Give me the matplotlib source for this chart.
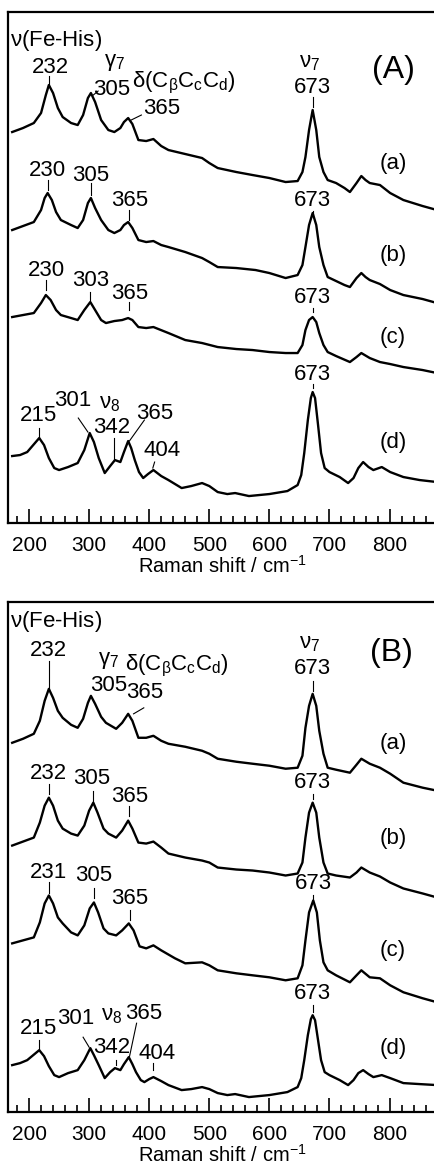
import matplotlib
matplotlib.use("Agg")
import matplotlib.pyplot as plt
from matplotlib.ticker import MultipleLocator

plt.rcParams['font.family'] = ['Liberation Sans', 'DejaVu Sans']
plt.rcParams['mathtext.fontset'] = 'custom'
plt.rcParams['mathtext.rm'] = 'Liberation Sans'
plt.rcParams['mathtext.it'] = 'Liberation Sans'
plt.rcParams['mathtext.bf'] = 'Liberation Sans:bold'

# ---- spectra (Raman shift, relative intensity) ----
A_a_x = [172, 190, 208, 220, 228, 233, 240, 248, 256, 270, 281, 290, 298, 303, 310, 320, 332, 342, 352, 358,
         365, 372, 382, 395, 407, 420, 432, 460, 488, 500, 514, 545, 572, 600, 627, 647, 655, 660, 666, 672,
         678, 683, 690, 697, 711, 725, 734, 745, 753, 760, 767, 784, 801, 823, 855, 879]
A_a_y = [78, 82, 87, 97, 115, 125, 117, 102, 93, 87, 85, 95, 112, 117, 108, 90, 80, 78, 82, 88,
         92, 86, 70, 69, 71, 64, 60, 56, 52, 47, 42, 38, 35, 32, 28, 29, 38, 53, 80, 100,
         80, 53, 38, 30, 27, 22, 18, 27, 34, 30, 27, 25, 17, 10, 4, 0]

A_b_x = [172, 190, 208, 220, 226, 231, 238, 245, 253, 270, 281, 290, 298, 303, 310, 320, 332, 342, 352, 358,
         365, 372, 382, 395, 407, 420, 432, 460, 488, 500, 514, 545, 577, 600, 627, 647, 655, 660, 666, 672,
         678, 683, 690, 697, 711, 725, 734, 745, 753, 760, 767, 784, 801, 823, 855, 879]
A_b_y = [73, 77, 81, 93, 105, 110, 103, 91, 83, 78, 75, 83, 100, 105, 95, 83, 73, 70, 73, 78,
         81, 75, 63, 61, 62, 58, 56, 51, 45, 41, 36, 35, 33, 30, 25, 28, 38, 56, 78, 90,
         78, 56, 38, 26, 22, 18, 16, 25, 30, 26, 23, 19, 13, 8, 4, 0]

A_c_x = [172, 190, 208, 220, 228, 236, 245, 253, 270, 281, 292, 302, 310, 320, 328, 342, 355, 365, 372, 382,
         395, 407, 432, 460, 488, 514, 545, 572, 600, 627, 647, 655, 660, 666, 672, 678, 683, 690, 697, 711,
         734, 745, 753, 767, 784, 801, 823, 855, 879]
A_c_y = [56, 58, 60, 70, 78, 73, 63, 58, 55, 53, 63, 71, 63, 53, 50, 52, 53, 55, 53, 46,
         45, 46, 40, 33, 30, 26, 24, 23, 21, 20, 20, 28, 43, 53, 56, 51, 40, 28, 21, 17,
         11, 16, 20, 15, 11, 9, 6, 3, 0]

A_d_x = [172, 185, 197, 207, 217, 225, 233, 242, 250, 265, 281, 292, 301, 308, 316, 326, 335, 343, 352, 358,
         365, 370, 376, 383, 390, 398, 407, 420, 432, 454, 470, 488, 500, 514, 530, 543, 566, 600, 630, 647,
         653, 658, 664, 669, 672, 676, 681, 686, 692, 700, 717, 731, 740, 748, 756, 765, 773, 787, 801, 823,
         850, 879]
A_d_y = [40, 41, 44, 51, 58, 51, 38, 28, 26, 29, 33, 46, 63, 54, 38, 23, 30, 36, 34, 44,
         55, 48, 36, 24, 18, 22, 26, 20, 16, 8, 10, 13, 10, 4, 2, 3, 0, 2, 5, 11,
         21, 43, 76, 98, 104, 98, 71, 43, 28, 24, 19, 13, 18, 28, 34, 29, 26, 29, 24, 19,
         16, 14]

B_a_x = [172, 190, 208, 218, 226, 233, 240, 248, 256, 270, 281, 290, 298, 303, 310, 320, 328, 345, 355, 365,
         372, 382, 395, 407, 420, 432, 460, 488, 500, 514, 545, 572, 600, 627, 647, 655, 660, 666, 672, 678,
         683, 690, 697, 711, 734, 745, 753, 767, 784, 801, 823, 855, 879]
B_a_y = [48, 52, 57, 70, 90, 102, 93, 80, 73, 66, 63, 72, 88, 95, 87, 74, 68, 62, 68, 77,
         70, 53, 53, 55, 50, 47, 44, 40, 37, 32, 29, 27, 25, 22, 23, 35, 63, 85, 97, 85,
         60, 37, 23, 21, 18, 26, 32, 27, 23, 17, 8, 3, 0]

B_b_x = [172, 190, 208, 218, 226, 233, 240, 248, 256, 270, 281, 292, 300, 307, 314, 324, 332, 345, 355, 365,
         372, 382, 395, 407, 420, 432, 460, 488, 500, 514, 545, 572, 600, 627, 647, 655, 660, 666, 672, 678,
         683, 690, 697, 711, 734, 745, 753, 767, 784, 801, 823, 855, 879]
B_b_y = [52, 56, 60, 75, 92, 100, 92, 77, 69, 64, 62, 72, 87, 95, 85, 69, 64, 60, 67, 77,
         69, 55, 54, 56, 50, 44, 40, 37, 35, 30, 28, 27, 25, 22, 24, 35, 60, 85, 95, 85,
         60, 35, 24, 22, 20, 25, 30, 25, 21, 15, 9, 4, 0]

B_c_x = [172, 190, 208, 218, 226, 233, 240, 248, 256, 270, 281, 292, 301, 308, 315, 324, 332, 345, 355, 366,
         374, 384, 395, 407, 420, 443, 460, 488, 500, 514, 545, 572, 600, 627, 647, 655, 660, 666, 673, 679,
         684, 690, 697, 711, 734, 745, 753, 767, 784, 801, 823, 855, 879]
B_c_y = [59, 62, 65, 80, 99, 107, 99, 85, 79, 70, 67, 77, 94, 100, 90, 74, 69, 67, 72, 79,
         72, 56, 54, 57, 52, 44, 39, 40, 37, 32, 29, 27, 25, 22, 24, 37, 62, 90, 102, 90,
         62, 40, 32, 27, 20, 27, 32, 25, 24, 17, 10, 4, 0]

B_d_x = [172, 185, 197, 207, 217, 225, 233, 242, 250, 265, 281, 292, 302, 308, 316, 326, 335, 343, 352, 358,
         366, 372, 378, 386, 392, 400, 407, 420, 432, 454, 470, 488, 500, 514, 530, 543, 566, 600, 630, 647,
         653, 658, 664, 669, 672, 676, 681, 686, 692, 700, 717, 731, 740, 748, 756, 765, 773, 787, 801, 823,
         850, 879]
B_d_y = [32, 34, 37, 42, 47, 41, 31, 22, 20, 24, 27, 37, 49, 42, 32, 19, 25, 29, 27, 33,
         40, 33, 25, 17, 15, 18, 20, 16, 12, 7, 8, 10, 8, 4, 2, 3, 0, 2, 5, 10,
         19, 37, 62, 78, 82, 77, 57, 37, 25, 22, 17, 12, 17, 24, 27, 23, 20, 22, 19, 14,
         13, 12]

trace_names = ['(a)', '(b)', '(c)', '(d)']


def tick(ax, x, y0, y1):
    ax.plot([x, x], [y0, y1], color='black', lw=0.8)


def lead(ax, x0, y0, x1, y1):
    ax.plot([x0, x1], [y0, y1], color='black', lw=0.8)


def setup_axis(ax):
    ax.set_xlim(165, 880)
    ax.set_ylim(0, 511)
    ax.set_yticks([])
    ax.spines['right'].set_visible(False)
    for s in ['left', 'top', 'bottom']:
        ax.spines[s].set_linewidth(1.6)
    ax.xaxis.set_major_locator(MultipleLocator(100))
    ax.xaxis.set_minor_locator(MultipleLocator(20))
    ax.tick_params(axis='x', which='major', direction='in', length=10, width=1.2,
                   labelsize=15, pad=9)
    ax.tick_params(axis='x', which='minor', direction='in', length=5, width=1.2)
    ax.set_xlabel('Raman shift / cm$^{-1}$', fontsize=14.5, labelpad=0)


fig = plt.figure(figsize=(4.34, 11.67), dpi=100)
axA = fig.add_axes([0.0184, 0.5518, 0.99, 0.4379])
axB = fig.add_axes([0.0184, 0.0471, 0.99, 0.4370])

fs = 16
lw_spec = 1.7

# ---------------- panel A ----------------
ax = axA
setup_axis(ax)
spectraA = [(A_a_x, A_a_y, 313), (A_b_x, A_b_y, 220), (A_c_x, A_c_y, 150), (A_d_x, A_d_y, 27)]
for (xs, ys, off) in spectraA:
    ax.plot(xs, [v + off for v in ys], color='black', lw=lw_spec)
for name, yl in zip(trace_names, [360, 268, 186, 81]):
    ax.text(806, yl, name, fontsize=fs, ha='center', va='center')

ax.text(806, 453, '(A)', fontsize=23, ha='center', va='center')
ax.text(169, 483, r'$\mathregular{\nu}$(Fe-His)', fontsize=fs, ha='left', va='center')
ax.text(236, 456, '232', fontsize=fs, ha='center', va='center')
tick(ax, 233, 447, 438)
ax.text(342, 461, r'$\mathregular{\gamma_7}$', fontsize=fs, ha='center', va='center')
ax.text(337, 434, '305', fontsize=fs, ha='center', va='center')
lead(ax, 315, 432, 307, 428)
ax.text(458, 440, r'$\mathregular{\delta(C_\beta C_c C_d)}$', fontsize=fs, ha='center', va='center')
ax.text(421, 415, '365', fontsize=fs, ha='center', va='center')
lead(ax, 387, 408, 370, 403)
ax.text(667, 461, r'$\mathregular{\nu_7}$', fontsize=fs, ha='center', va='center')
ax.text(672, 436, '673', fontsize=fs, ha='center', va='center')
tick(ax, 672, 426, 416)

ax.text(231, 353, '230', fontsize=fs, ha='center', va='center')
tick(ax, 231, 343, 333)
ax.text(303, 348, '305', fontsize=fs, ha='center', va='center')
tick(ax, 303, 340, 328)
ax.text(367, 323, '365', fontsize=fs, ha='center', va='center')
tick(ax, 366, 313, 303)
ax.text(672, 323, '673', fontsize=fs, ha='center', va='center')
tick(ax, 672, 312, 308)

ax.text(229, 253, '230', fontsize=fs, ha='center', va='center')
tick(ax, 229, 243, 233)
ax.text(302, 243, '303', fontsize=fs, ha='center', va='center')
tick(ax, 302, 231, 223)
ax.text(367, 230, '365', fontsize=fs, ha='center', va='center')
tick(ax, 366, 221, 213)
ax.text(672, 226, '673', fontsize=fs, ha='center', va='center')
tick(ax, 672, 215, 211)

ax.text(672, 149, '673', fontsize=fs, ha='center', va='center')
tick(ax, 672, 139, 135)
ax.text(215, 108, '215', fontsize=fs, ha='center', va='center')
tick(ax, 216, 95, 85)
ax.text(273, 123, '301', fontsize=fs, ha='center', va='center')
lead(ax, 282, 105, 298, 91)
ax.text(334, 120, r'$\mathregular{\nu_8}$', fontsize=fs, ha='center', va='center')
ax.text(337, 96, '342', fontsize=fs, ha='center', va='center')
tick(ax, 342, 85, 63)
ax.text(409, 110, '365', fontsize=fs, ha='center', va='center')
lead(ax, 392, 103, 367, 82)
ax.text(421, 73, '404', fontsize=fs, ha='center', va='center')
lead(ax, 409, 61, 406, 55)

# ---------------- panel B ----------------
ax = axB
setup_axis(ax)
spectraB = [(B_a_x, B_a_y, 322), (B_b_x, B_b_y, 215), (B_c_x, B_c_y, 110), (B_d_x, B_d_y, 15)]
for (xs, ys, off) in spectraB:
    ax.plot(xs, [v + off for v in ys], color='black', lw=lw_spec)
for name, yl in zip(trace_names, [369, 274, 162, 64]):
    ax.text(806, yl, name, fontsize=fs, ha='center', va='center')

ax.text(803, 460, '(B)', fontsize=23, ha='center', va='center')
ax.text(169, 492, r'$\mathregular{\nu}$(Fe-His)', fontsize=fs, ha='left', va='center')
ax.text(233, 462, '232', fontsize=fs, ha='center', va='center')
tick(ax, 233, 452, 424)
ax.text(332, 452, r'$\mathregular{\gamma_7}$', fontsize=fs, ha='center', va='center')
ax.text(446, 447, r'$\mathregular{\delta(C_\beta C_c C_d)}$', fontsize=fs, ha='center', va='center')
ax.text(332, 427, '305', fontsize=fs, ha='center', va='center')
ax.text(392, 420, '365', fontsize=fs, ha='center', va='center')
lead(ax, 391, 405, 374, 399)
ax.text(667, 469, r'$\mathregular{\nu_7}$', fontsize=fs, ha='center', va='center')
ax.text(672, 444, '673', fontsize=fs, ha='center', va='center')
tick(ax, 672, 432, 422)

ax.text(233, 339, '232', fontsize=fs, ha='center', va='center')
tick(ax, 233, 329, 319)
ax.text(305, 334, '305', fontsize=fs, ha='center', va='center')
tick(ax, 306, 322, 312)
ax.text(367, 316, '365', fontsize=fs, ha='center', va='center')
tick(ax, 366, 307, 297)
ax.text(672, 330, '673', fontsize=fs, ha='center', va='center')
tick(ax, 672, 319, 314)

ax.text(233, 240, '231', fontsize=fs, ha='center', va='center')
tick(ax, 233, 230, 219)
ax.text(307, 237, '305', fontsize=fs, ha='center', va='center')
tick(ax, 308, 224, 214)
ax.text(368, 214, '365', fontsize=fs, ha='center', va='center')
tick(ax, 368, 202, 192)
ax.text(674, 229, '673', fontsize=fs, ha='center', va='center')
tick(ax, 673, 217, 213)

ax.text(672, 119, '673', fontsize=fs, ha='center', va='center')
tick(ax, 672, 107, 100)
ax.text(215, 84, '215', fontsize=fs, ha='center', va='center')
tick(ax, 216, 72, 62)
ax.text(278, 94, '301', fontsize=fs, ha='center', va='center')
lead(ax, 290, 75, 300, 65)
ax.text(337, 97, r'$\mathregular{\nu_8}$', fontsize=fs, ha='center', va='center')
ax.text(337, 65, '342', fontsize=fs, ha='center', va='center')
tick(ax, 344, 52, 47)
ax.text(391, 99, '365', fontsize=fs, ha='center', va='center')
lead(ax, 379, 89, 367, 55)
ax.text(413, 59, '404', fontsize=fs, ha='center', va='center')
tick(ax, 407, 49, 42)

fig.savefig('out.png', dpi=100)
